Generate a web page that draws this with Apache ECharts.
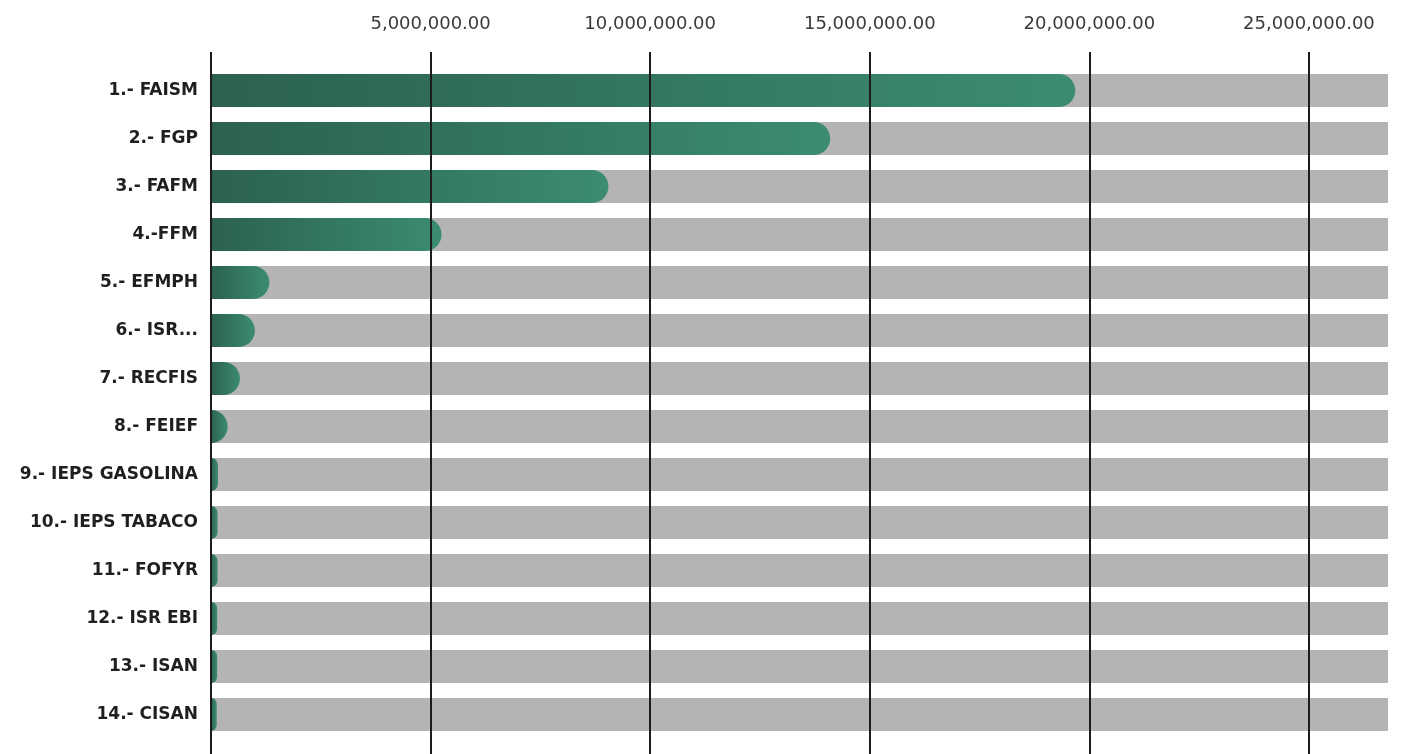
<!DOCTYPE html>
<html>
<head>
<meta charset="utf-8">
<script src="https://cdn.jsdelivr.net/npm/echarts@6/dist/echarts.min.js"></script>
<style>
  html, body { margin: 0; padding: 0; background: #fff; }
  #chart { width: 1405px; height: 754px; }
</style>
</head>
<body>
<div id="chart"></div>
<script>
// categories, top to bottom
var categories = [
  "1.- FAISM", "2.- FGP", "3.- FAFM", "4.-FFM", "5.- EFMPH", "6.- ISR...",
  "7.- RECFIS", "8.- FEIEF", "9.- IEPS GASOLINA", "10.- IEPS TABACO",
  "11.- FOFYR", "12.- ISR EBI", "13.- ISAN", "14.- CISAN"
];
// amounts
var amounts = [
  19680000, 14100000, 9050000, 5250000, 1330000, 1000000,
  660000, 380000, 160000, 150000, 150000, 140000, 140000, 130000
];
// value axis
var axisMax = 26800000;
var tickStep = 5000000;

(function () {
  "use strict";

  function fmt(v) {
    if (v === 0 || v % tickStep !== 0) return "";
    return v.toLocaleString("en-US", { minimumFractionDigits: 2, maximumFractionDigits: 2 });
  }

  var chart = echarts.init(document.getElementById("chart"), null, { renderer: "canvas" });

  chart.setOption({
    backgroundColor: "#ffffff",
    animation: false,
    grid: [
      // bars
      { left: 211, right: 17, top: 66.5, height: 672 },
      // gridlines + top labels, taller than the bar area
      { left: 211, right: 17, top: 52, bottom: 0 }
    ],
    xAxis: [
      { type: "value", gridIndex: 0, min: 0, max: axisMax, interval: tickStep, show: false },
      {
        type: "value",
        gridIndex: 1,
        position: "top",
        min: 0,
        max: axisMax,
        interval: tickStep,
        z: 10,
        axisLine: { show: false },
        axisTick: { show: false },
        axisLabel: {
          formatter: fmt,
          showMinLabel: false,
          showMaxLabel: false,
          margin: 19,
          fontFamily: "DejaVu Sans",
          fontSize: 18,
          color: "#3a3a3a"
        },
        splitLine: {
          show: true,
          showMinLine: true,
          showMaxLine: false,
          lineStyle: { color: "#1c1c1c", width: 2 }
        }
      }
    ],
    yAxis: [
      {
        type: "category",
        gridIndex: 0,
        data: categories,
        inverse: true,
        axisLine: { show: false },
        axisTick: { show: false },
        splitLine: { show: false },
        axisLabel: {
          margin: 13,
          fontFamily: "DejaVu Sans",
          fontWeight: "bold",
          fontSize: 17,
          color: "#1f1f1f"
        }
      },
      { type: "value", gridIndex: 1, show: false }
    ],
    series: [
      {
        name: "Monto",
        type: "bar",
        xAxisIndex: 0,
        yAxisIndex: 0,
        data: amounts,
        barWidth: 33,
        showBackground: true,
        backgroundStyle: { color: "#b4b4b4" },
        itemStyle: {
          borderRadius: [0, 17, 17, 0],
          color: new echarts.graphic.LinearGradient(0, 0, 1, 0, [
            { offset: 0, color: "#2c6150" },
            { offset: 1, color: "#3b8c70" }
          ])
        }
      }
    ]
  });

  window.addEventListener("resize", function () { chart.resize(); });
})();
</script>
</body>
</html>
